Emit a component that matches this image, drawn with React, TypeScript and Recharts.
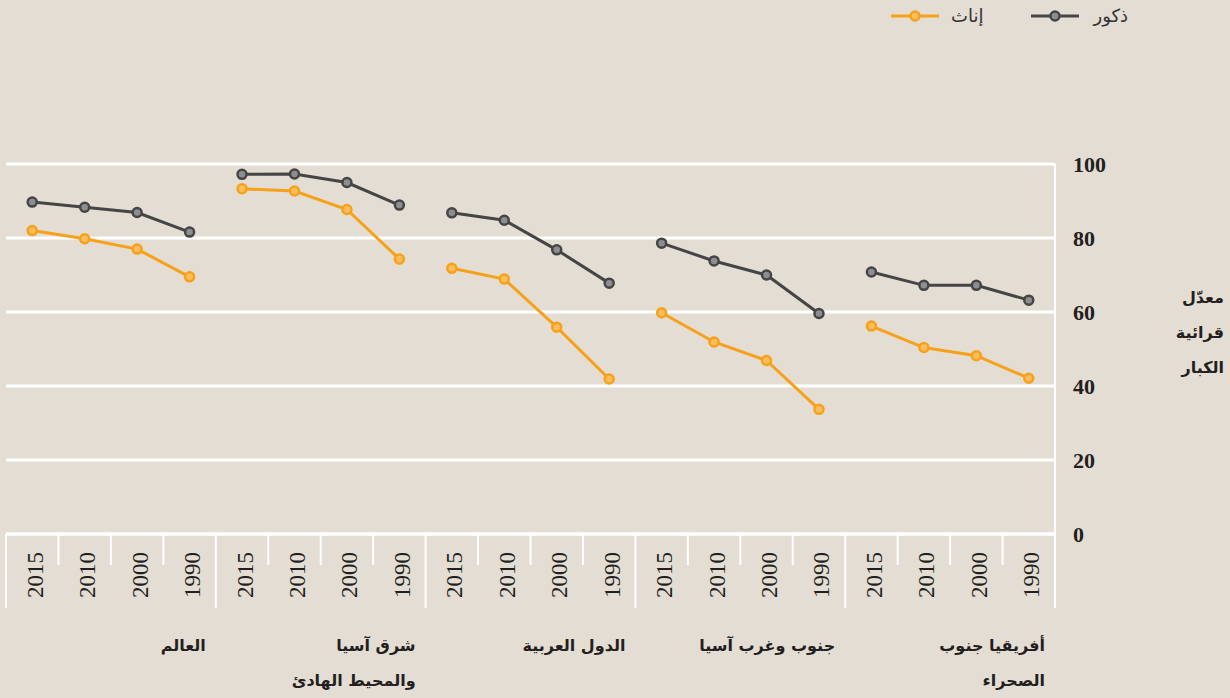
import React from 'react';
import { LineChart, Line, XAxis, YAxis, CartesianGrid } from 'recharts';

const regions = ['العالم', 'شرق آسيا|والمحيط الهادئ', 'الدول العربية', 'جنوب وغرب آسيا', 'أفريقيا جنوب|الصحراء'];
const years = ['2015', '2010', '2000', '1990'];
const maleValues = [
  [89.7, 88.3, 86.9, 81.6],
  [97.2, 97.3, 95.0, 88.9],
  [86.8, 84.8, 76.8, 67.8],
  [78.6, 73.8, 70.0, 59.6],
  [70.8, 67.2, 67.2, 63.2],
];
const femaleValues = [
  [82.0, 79.8, 77.0, 69.5],
  [93.3, 92.7, 87.7, 74.3],
  [71.8, 68.9, 55.9, 41.9],
  [59.8, 51.9, 46.9, 33.7],
  [56.2, 50.4, 48.2, 42.1],
];
const yTicks = [0, 20, 40, 60, 80, 100];
const maleLabel = 'ذكور';
const femaleLabel = 'إناث';
const axisTitle = ['معدّل', 'قرائية', 'الكبار'];

const W = 1230;
const H = 698;
const M = { top: 164, right: 105, bottom: 14, left: 6 };
const YAXIS_W = 70;
const XAXIS_H = 150;
const PLOT_RIGHT = W - M.right - YAXIS_W;
const PLOT_BOTTOM = H - M.bottom - XAXIS_H;
const BW = (PLOT_RIGHT - M.left) / (regions.length * years.length);

const BG = '#e4ddd3';
const MALE = '#454545';
const MALE_FILL = '#8e8e90';
const FEMALE = '#f7a11a';
const FEMALE_FILL = '#fcbd5c';
const TEXT = '#231f20';

const data: any[] = [];
regions.forEach((r, ri) => {
  years.forEach((y, yi) => {
    const row: any = { key: `${ri}-${y}`, year: y, region: ri };
    row[`m${ri}`] = maleValues[ri][yi];
    row[`f${ri}`] = femaleValues[ri][yi];
    data.push(row);
  });
});

const XTick = (props: any) => {
  const { x, index } = props;
  const row = data[index];
  if (!row) return null;
  const yi = index % years.length;
  const left = x - BW / 2;
  const right = x + BW / 2;
  const isGroupStart = yi === 0;
  const isGroupEnd = yi === years.length - 1;
  const cx = x + 3;
  const cy = PLOT_BOTTOM + 41;
  const lines = isGroupEnd ? regions[row.region].split('|') : [];
  return (
    <g>
      <line x1={left} x2={left} y1={PLOT_BOTTOM} y2={PLOT_BOTTOM + (isGroupStart ? 74 : 31)} stroke="#fff" strokeWidth={2} />
      {index === data.length - 1 && (
        <line x1={right} x2={right} y1={PLOT_BOTTOM} y2={PLOT_BOTTOM + 74} stroke="#fff" strokeWidth={2} />
      )}
      <text
        x={cx}
        y={cy}
        transform={`rotate(-90, ${cx}, ${cy})`}
        textAnchor="middle"
        dominantBaseline="central"
        fontFamily="'Liberation Serif', serif"
        fontSize={23}
        fill={TEXT}
      >
        {row.year}
      </text>
      {lines.map((t: string, i: number) => (
        <text
          key={i}
          x={right - 10}
          y={PLOT_BOTTOM + 111 + i * 35}
          textAnchor="end"
          dominantBaseline="central"
          fontFamily="'DejaVu Sans', sans-serif"
          fontWeight="bold"
          fontSize={16}
          fill={TEXT}
        >
          {t}
        </text>
      ))}
    </g>
  );
};

const YTick = (props: any) => {
  const { y, payload } = props;
  return (
    <text
      x={PLOT_RIGHT + 18}
      y={y}
      textAnchor="start"
      dominantBaseline="central"
      fontFamily="'Liberation Serif', serif"
      fontWeight="bold"
      fontSize={22}
      fill={TEXT}
    >
      {payload.value}
    </text>
  );
};

const LegendSymbol = ({ color, fill }: { color: string; fill: string }) => (
  <svg width={48} height={14} style={{ display: 'block' }}>
    <line x1={0} x2={48} y1={7} y2={7} stroke={color} strokeWidth={3} />
    <circle cx={24} cy={7} r={4.5} fill={fill} stroke={color} strokeWidth={2.5} />
  </svg>
);

export default function App() {
  return (
    <div style={{ position: 'absolute', top: 0, left: 0, width: W, height: H, background: BG }}>
      <LineChart width={W} height={H} data={data} margin={M}>
        <CartesianGrid horizontal vertical={false} stroke="#fff" strokeWidth={3} />
        <XAxis
          dataKey="key"
          scale="band"
          interval={0}
          height={XAXIS_H}
          tickLine={false}
          axisLine={{ stroke: '#fff', strokeWidth: 3 }}
          tick={<XTick />}
        />
        <YAxis
          orientation="right"
          width={YAXIS_W}
          domain={[0, 100]}
          ticks={yTicks}
          tickLine={false}
          axisLine={{ stroke: '#fff', strokeWidth: 2 }}
          tick={<YTick />}
        />
        {regions.map((_, ri) => (
          <Line
            key={`f${ri}`}
            dataKey={`f${ri}`}
            stroke={FEMALE}
            strokeWidth={3}
            dot={{ r: 4.5, fill: FEMALE_FILL, stroke: FEMALE, strokeWidth: 2.5 }}
            activeDot={false}
            isAnimationActive={false}
            connectNulls={false}
          />
        ))}
        {regions.map((_, ri) => (
          <Line
            key={`m${ri}`}
            dataKey={`m${ri}`}
            stroke={MALE}
            strokeWidth={3}
            dot={{ r: 4.5, fill: MALE_FILL, stroke: MALE, strokeWidth: 2.5 }}
            activeDot={false}
            isAnimationActive={false}
            connectNulls={false}
          />
        ))}
      </LineChart>
      <div
        style={{
          position: 'absolute',
          top: 5,
          left: 891,
          display: 'flex',
          alignItems: 'center',
          fontFamily: "'DejaVu Sans', sans-serif",
          fontSize: 18,
          color: '#333',
        }}
      >
        <LegendSymbol color={FEMALE} fill={FEMALE_FILL} />
        <span style={{ marginLeft: 12, marginRight: 48 }}>{femaleLabel}</span>
        <LegendSymbol color={MALE} fill={MALE_FILL} />
        <span style={{ marginLeft: 14 }}>{maleLabel}</span>
      </div>
      <div
        style={{
          position: 'absolute',
          right: W - 1224,
          top: 280,
          textAlign: 'right',
          direction: 'rtl',
          fontFamily: "'DejaVu Sans', sans-serif",
          fontWeight: 'bold',
          fontSize: 16,
          lineHeight: '35px',
          color: TEXT,
        }}
      >
        {axisTitle.map((t, i) => (
          <div key={i}>{t}</div>
        ))}
      </div>
    </div>
  );
}
